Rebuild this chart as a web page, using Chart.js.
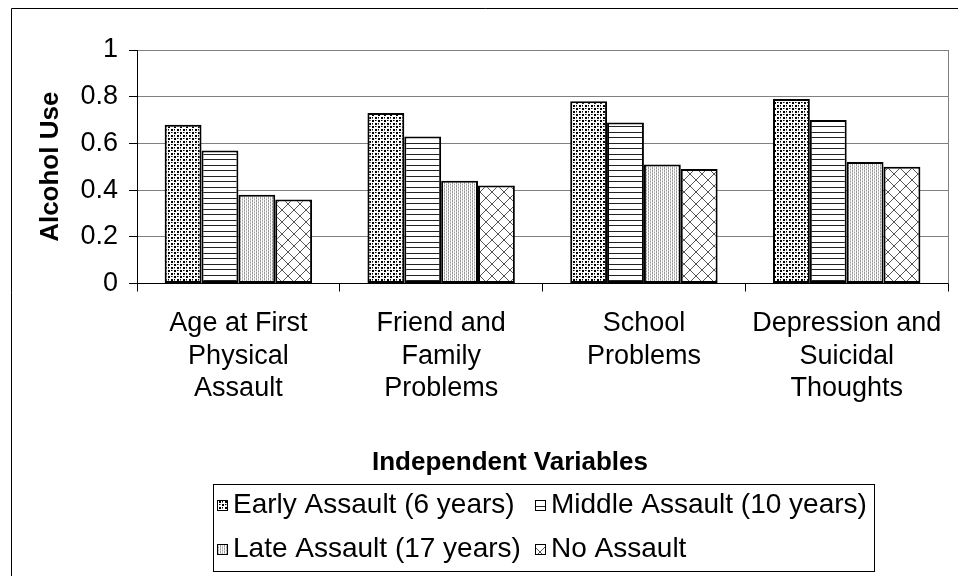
<!DOCTYPE html>
<html>
<head>
<meta charset="utf-8">
<script src="https://cdn.jsdelivr.net/npm/chart.js@4/dist/chart.umd.min.js"></script>
<style>
html,body{margin:0;padding:0;background:#fff;}
#wrap{width:958px;height:576px;position:relative;}
</style>
</head>
<body>
<div id="wrap"><canvas id="c" width="958" height="576"></canvas></div>
<script>
// ---- data ----
const categories = [
  ["Age at First", "Physical", "Assault"],
  ["Friend and", "Family", "Problems"],
  ["School", "Problems"],
  ["Depression and", "Suicidal", "Thoughts"]
];
const seriesNames = ["Early Assault (6 years)", "Middle Assault (10 years)", "Late Assault (17 years)", "No Assault"];
const earlyAssault = [0.68, 0.73, 0.78, 0.79];
const middleAssault = [0.57, 0.63, 0.69, 0.70];
const lateAssault = [0.38, 0.44, 0.51, 0.52];
const noAssault = [0.36, 0.42, 0.49, 0.50];
const yTicks = [0, 0.2, 0.4, 0.6, 0.8, 1];
const xTitle = "Independent Variables";
const yTitle = "Alcohol Use";

const FONT = "'Liberation Sans', Arial, sans-serif";

// ---- patterns ----
function makePattern(w, h, draw) {
  const c = document.createElement('canvas');
  c.width = w; c.height = h;
  const g = c.getContext('2d');
  g.fillStyle = '#fff'; g.fillRect(0, 0, w, h);
  draw(g);
  return document.getElementById('c').getContext('2d').createPattern(c, 'repeat');
}
const patEarly = makePattern(6, 6, g => {
  g.fillStyle = '#000';
  g.fillRect(0, 0, 2, 2); g.fillRect(3, 3, 2, 2);
  g.fillRect(3, 0, 1, 1); g.fillRect(0, 3, 1, 1);
  g.fillStyle = '#777';
  g.fillRect(4, 0, 1, 1); g.fillRect(0, 4, 1, 1);
});
const patMiddle = makePattern(8, 11, g => {
  g.fillStyle = '#222';
  g.fillRect(0, 0, 8, 1); g.fillRect(0, 5, 8, 1);
});
const patLate = makePattern(4, 3, g => {
  g.fillStyle = '#999';
  g.fillRect(0, 0, 1, 1); g.fillRect(2, 1, 1, 1); g.fillRect(0, 2, 1, 1);
  g.fillStyle = '#ccc';
  g.fillRect(2, 0, 1, 1); g.fillRect(0, 1, 1, 1); g.fillRect(2, 2, 1, 1);
});
const patNone = makePattern(12, 12, g => {
  g.strokeStyle = '#555'; g.lineWidth = 1;
  g.beginPath();
  g.moveTo(0, 0); g.lineTo(12, 12);
  g.moveTo(12, 0); g.lineTo(0, 12);
  g.stroke();
});
const patterns = [patEarly, patMiddle, patLate, patNone];
const seriesValues = [earlyAssault, middleAssault, lateAssault, noAssault];

const datasets = seriesNames.map((name, i) => ({
  label: name,
  data: seriesValues[i],
  backgroundColor: patterns[i],
  borderColor: '#000',
  borderWidth: 2,
  borderSkipped: false,
  categoryPercentage: 0.727,
  barPercentage: 1.0
}));

const framePlugin = {
  id: 'frame',
  beforeDraw(chart) {
    const ctx = chart.ctx;
    ctx.save();
    ctx.fillStyle = '#fff';
    ctx.fillRect(0, 0, chart.width, chart.height);
    ctx.restore();
  },
  beforeDatasetsDraw(chart) {
    const {ctx, chartArea} = chart;
    ctx.save();
    ctx.strokeStyle = '#808080';
    ctx.lineWidth = 1;
    ctx.beginPath();
    const x = Math.round(chartArea.right) + 0.5;
    ctx.moveTo(x, chartArea.top);
    ctx.lineTo(x, chartArea.bottom);
    ctx.stroke();
    ctx.restore();
  },
  afterDraw(chart) {
    const ctx = chart.ctx;
    ctx.save();
    // outer border
    ctx.strokeStyle = '#000';
    ctx.lineWidth = 1;
    ctx.beginPath();
    ctx.moveTo(11.5, chart.height + 2);
    ctx.lineTo(11.5, 8.5);
    ctx.lineTo(chart.width + 2, 8.5);
    ctx.stroke();
    // x axis title (centred on the outer plot area)
    ctx.fillStyle = '#000';
    ctx.font = 'bold 26px ' + FONT;
    ctx.textAlign = 'center';
    ctx.textBaseline = 'middle';
    ctx.fillText(xTitle, 510, 463);
    // legend box
    ctx.strokeStyle = '#000';
    ctx.strokeRect(213.5, 484.5, 661, 87);
    const pos = [[217, 505], [535, 505], [217, 549], [535, 549]];
    ctx.font = '28px ' + FONT;
    ctx.textBaseline = 'middle';
    ctx.textAlign = 'left';
    chart.data.datasets.forEach((ds, i) => {
      const [x, y] = pos[i];
      ctx.fillStyle = ds.backgroundColor;
      ctx.fillRect(x, y - 5, 11, 11);
      ctx.strokeStyle = '#000';
      ctx.strokeRect(x + 0.5, y - 4.5, 10, 10);
      ctx.fillStyle = '#000';
      ctx.fillText(ds.label, x + 16, y);
    });
    ctx.restore();
  }
};

new Chart(document.getElementById('c'), {
  type: 'bar',
  data: { labels: categories, datasets },
  options: {
    responsive: false,
    animation: false,
    events: [],
    layout: { padding: { left: 35, top: 50, right: 6, bottom: 101 } },
    plugins: { legend: { display: false }, tooltip: { enabled: false } },
    scales: {
      x: {
        grid: { display: true, drawOnChartArea: false, offset: true, color: '#000', tickLength: 8, tickColor: '#000' },
        border: { color: '#000', width: 1 },
        ticks: { color: '#000', font: { family: FONT, size: 27, lineHeight: 1.2 }, padding: 16, maxRotation: 0, autoSkip: false },
        title: { display: false },
        afterFit(scale) { scale.height = 191.5; }
      },
      y: {
        min: 0, max: 1,
        afterBuildTicks(scale) { scale.ticks = yTicks.map(v => ({ value: v })); },
        grid: { color: '#808080', tickColor: '#000', tickLength: 8 },
        border: { color: '#000', width: 1 },
        ticks: { color: '#000', font: { family: FONT, size: 27 }, padding: 11, callback: v => String(+v.toFixed(1)) },
        title: { display: true, text: yTitle, color: '#000', font: { family: FONT, size: 26, weight: 'bold', lineHeight: 1.2 }, padding: 0 },
        afterFit(scale) { scale.width = 102; }
      }
    }
  },
  plugins: [framePlugin]
});
</script>
</body>
</html>
